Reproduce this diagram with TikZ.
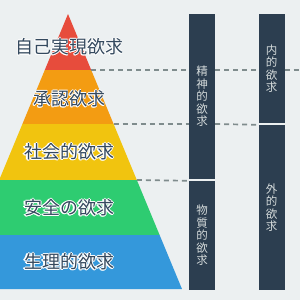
\documentclass[tikz,border=0pt]{standalone}
\usepackage{fontspec}
\setmainfont{Noto Sans CJK JP}
\usetikzlibrary{positioning,calc}

\definecolor{bgc}{HTML}{ECF0F1}
\definecolor{lvlA}{HTML}{E74C3C}
\definecolor{lvlB}{HTML}{F39C12}
\definecolor{lvlC}{HTML}{F1C40F}
\definecolor{lvlD}{HTML}{2ECC71}
\definecolor{lvlE}{HTML}{3498DB}
\definecolor{barc}{HTML}{2C3E50}
\definecolor{lblc}{HTML}{34495E}
\definecolor{bartxt}{HTML}{D5DBDB}
\definecolor{dashc}{HTML}{7F8C8D}

\begin{document}
\begin{tikzpicture}[x=1pt,y=-1pt,
   lbl/.style={font=\fontsize{18}{18}\selectfont,text=lblc,inner sep=0pt},
   bar/.style={fill=barc,minimum width=26pt,inner sep=0pt,text=bartxt,
               align=center,font=\fontsize{11.5}{12.5}\selectfont},
   sep/.style={dash pattern=on 5pt off 4pt,line width=1.7pt,draw=dashc}
]
\useasboundingbox (0,0) rectangle (300,300);
\clip (0,0) rectangle (300,300);
\fill[bgc] (0,0) rectangle (300,300);

% pyramid bands: apex (68,14), slope 0.4145
\foreach \ya/\yb/\col in {14/70/lvlA,70/124/lvlB,124/180/lvlC,180/235/lvlD,235/289/lvlE}
  \fill[\col] ({68-0.4145*(\ya-14)},\ya) -- ({68+0.4145*(\ya-14)},\ya)
     -- ({68+0.4145*(\yb-14)},\yb) -- ({68-0.4145*(\yb-14)},\yb) -- cycle;

% level edges for the dashed lines
\coordinate (eA) at ({68+0.4145*56},70);
\coordinate (eB) at ({68+0.4145*110},124);
\coordinate (eC) at ({68+0.4145*166},180);
\coordinate (rA) at (300,70);

% right bars
\node[bar,minimum height=165pt] (mind) at (202,96.5) {精\\神\\的\\欲\\求};
\node[bar,minimum height=109pt] (matter) at (202,235.5) {物\\質\\的\\欲\\求};
\node[bar,minimum height=109pt] (inner) at (271.5,68.5) {内\\的\\欲\\求};
\node[bar,minimum height=165pt] (outer) at (271.5,207.5) {外\\的\\欲\\求};

% dashed guides, stopped at the bars
\draw[sep] (eA) -- (mind.west |- eA);
\draw[sep] (mind.east |- eA) -- (inner.west |- eA);
\draw[sep] (inner.east |- eA) -- (rA);
\draw[sep] (eB) -- (mind.west |- eB);
\draw[sep] (mind.east |- eB) -- (outer.north west);
\draw[sep] (eC) -- (matter.north west);

% level labels with a white halo
\foreach \n/\y/\t in {self/47/自己実現欲求,esteem/99/承認欲求,social/152/社会的欲求,
                      safety/208/安全の欲求,body/262/生理的欲求}{
  \foreach \a in {0,45,...,315}
    \node[lbl,text=white] at ([shift={(\a:1pt)}]69,\y) {\t};
  \node[lbl] (\n) at (69,\y) {\t};
}
\end{tikzpicture}
\end{document}
